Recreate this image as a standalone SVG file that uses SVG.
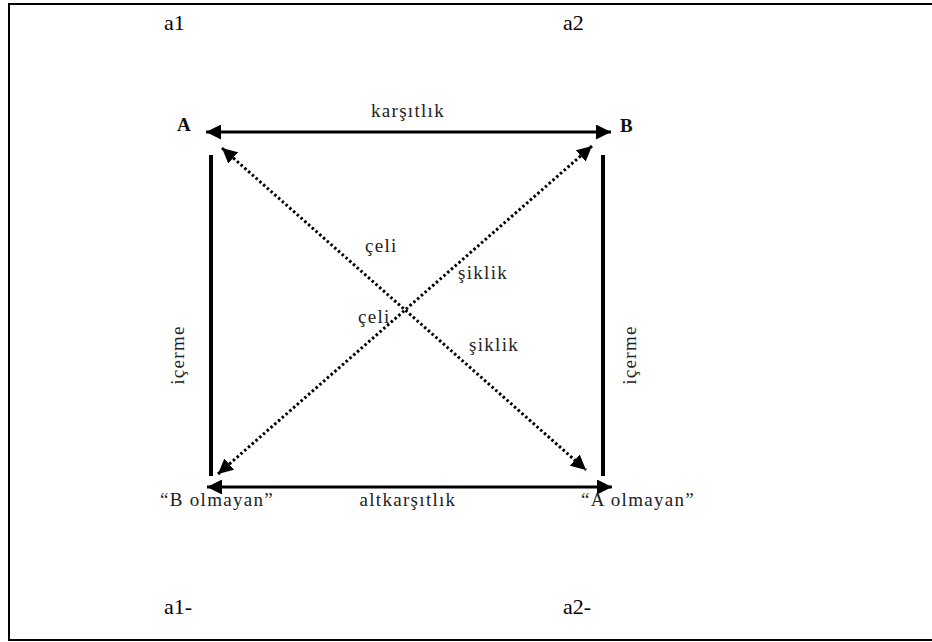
<svg xmlns="http://www.w3.org/2000/svg" width="932" height="642" viewBox="0 0 932 642">
<style>
.big{font-family:'Liberation Serif','DejaVu Serif',serif;font-size:22px;fill:#000}
.lbl{font-family:'Liberation Serif','DejaVu Serif',serif;font-size:19px;letter-spacing:1.3px;fill:#222}
.bold{font-family:'Liberation Serif','DejaVu Serif',serif;font-size:19px;font-weight:bold;fill:#111}
.solid{stroke:#000;stroke-width:3;fill:none}
.thick{stroke:#000;stroke-width:4;fill:none}
.dot{stroke:#000;stroke-width:3;stroke-dasharray:2.5 2.5;fill:none}
</style>
<defs>
<marker id="ah" viewBox="0 0 10 10" refX="10" refY="5" markerWidth="5" markerHeight="5" orient="auto-start-reverse" markerUnits="strokeWidth">
<path d="M0,0 L10,5 L0,10 z" fill="#000"/>
</marker>
</defs>
<rect x="9" y="4" width="940" height="636" fill="#fff" stroke="#000" stroke-width="2"/>
<g id="corner-labels">
<text class="big" x="164" y="30">a1</text>
<text class="big" x="563" y="30">a2</text>
<text class="big" x="164" y="614">a1-</text>
<text class="big" x="563" y="614">a2-</text>
</g>
<g id="connectors">
<line class="solid" x1="206" y1="132" x2="611" y2="132" marker-start="url(#ah)" marker-end="url(#ah)"/>
<line class="solid" x1="207" y1="487" x2="612" y2="487" marker-start="url(#ah)" marker-end="url(#ah)"/>
<line class="thick" x1="211" y1="155" x2="211" y2="476"/>
<line class="thick" x1="603" y1="155" x2="603" y2="476"/>
<line class="dot" x1="222" y1="148" x2="586" y2="470" marker-start="url(#ah)" marker-end="url(#ah)"/>
<line class="dot" x1="218" y1="474" x2="592" y2="146" marker-start="url(#ah)" marker-end="url(#ah)"/>
</g>
<g id="node-A"><text class="bold" x="177" y="131">A</text></g>
<g id="node-B"><text class="bold" x="620" y="132">B</text></g>
<g id="node-notB"><text class="lbl" x="160" y="506">“B olmayan”</text></g>
<g id="node-notA"><text class="lbl" x="581" y="506">“A olmayan”</text></g>
<g id="edge-labels">
<text class="lbl" x="408" y="117" text-anchor="middle">karşıtlık</text>
<text class="lbl" x="408" y="506" text-anchor="middle">altkarşıtlık</text>
<text class="lbl" transform="translate(184,355) rotate(-90)" text-anchor="middle">içerme</text>
<text class="lbl" transform="translate(636,355) rotate(-90)" text-anchor="middle">içerme</text>
<text class="lbl" x="365" y="252">çeli</text>
<text class="lbl" x="458" y="279">şiklik</text>
<text class="lbl" x="358" y="323">çeli</text>
<text class="lbl" x="469" y="351">şiklik</text>
</g>
</svg>
